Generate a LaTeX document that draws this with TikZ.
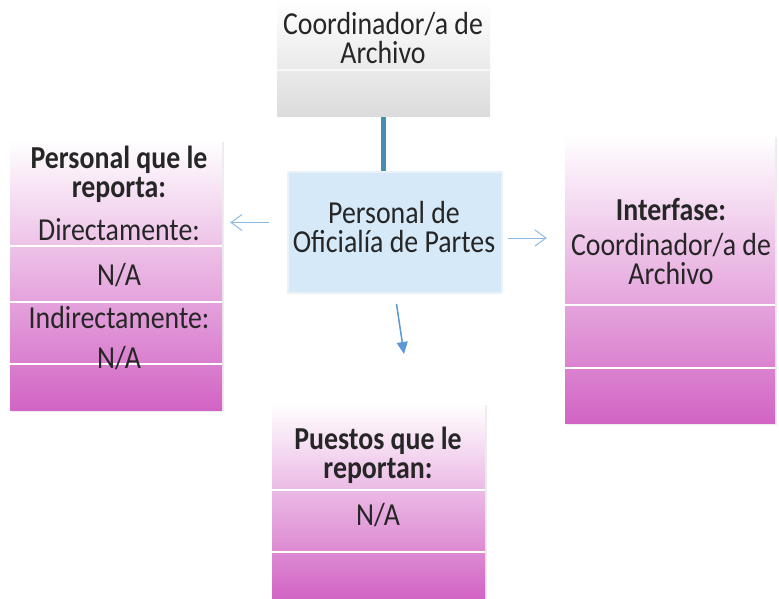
\documentclass[tikz,border=0pt]{standalone}
\usepackage{fontspec}
\setmainfont{Carlito}[FakeStretch=0.87]
\usetikzlibrary{arrows.meta,positioning,shadows}
\definecolor{pinkdeep}{RGB}{210,100,196}
\definecolor{lightsky}{RGB}{214,233,248}
\definecolor{skyedge}{RGB}{234,241,247}
\definecolor{linkblue}{RGB}{72,140,182}
\definecolor{arrowblue}{RGB}{140,186,226}
\definecolor{downblue}{RGB}{92,152,214}
\definecolor{txtgray}{RGB}{38,38,38}

\begin{document}
\begin{tikzpicture}[x=1pt, y=-1pt,
    pbox/.style={rectangle, inner sep=0pt, top color=white, bottom color=pinkdeep, drop shadow={opacity=0.15, shadow xshift=2pt, shadow yshift=-2pt}},
    gbox/.style={rectangle, inner sep=0pt, top color=white, bottom color=gray!28},
    cbox/.style={rectangle, inner sep=0pt, fill=lightsky, draw=skyedge, line width=2pt},
    sep/.style={white, line width=2pt},
    txt/.style={anchor=base, inner sep=0pt, text=txtgray, font=\fontsize{32pt}{29pt}\selectfont},
    ttl/.style={txt, font=\fontsize{32pt}{29pt}\selectfont\bfseries},
    linkbar/.style={linkblue, line width=5pt},
    openarr/.style={arrowblue, line width=1pt, -{Straight Barb[length=11pt, width=16pt]}},
    fillarr/.style={downblue, line width=1.5pt, -{Triangle[length=12pt, width=11pt]}}
]
    \useasboundingbox (0,0) rectangle (779,599);

    % Boxes
    \node[gbox, minimum width=213pt, minimum height=117pt] (arch) at (383.5,58.5) {};
    \node[cbox, minimum width=214pt, minimum height=121pt] (ofp) at (395,232.5) {};
    \node[pbox, minimum width=212pt, minimum height=270pt] (rep) at (116,275) {};
    \node[pbox, minimum width=210pt, minimum height=288pt] (intf) at (670,279) {};
    \node[pbox, minimum width=213pt, minimum height=196pt] (pst) at (378.5,501) {};

    % Band separators
    \draw[white, line width=1.5pt, opacity=0.7] (arch.west |- 0,70) -- (arch.east |- 0,70);
    \foreach \yy in {246,302,364}
        \draw[sep] (rep.west |- 0,\yy) -- (rep.east |- 0,\yy);
    \foreach \yy in {305,368}
        \draw[sep] (intf.west |- 0,\yy) -- (intf.east |- 0,\yy);
    \foreach \yy in {490,552}
        \draw[sep] (pst.west |- 0,\yy) -- (pst.east |- 0,\yy);

    % Top box
    \node[txt] (arch1) at (383,35) {Coordinador/a de};
    \node[txt] (arch2) at (383,64) {Archivo};

    % Center box
    \node[txt] (ofp1) at (394,223) {Personal de};
    \node[txt] (ofp2) at (394,252) {Oficialía de Partes};

    % Left box
    \node[ttl] (rep1) at (119,168) {Personal que le};
    \node[ttl] (rep2) at (119,197) {reporta:};
    \node[txt] (rep3) at (119,240) {Directamente:};
    \node[txt] (rep4) at (119,285) {N/A};
    \node[txt] (rep5) at (119,328) {Indirectamente:};
    \node[txt] (rep6) at (119,368) {N/A};

    % Right box
    \node[ttl] (intf1) at (671,220) {Interfase:};
    \node[txt] (intf2) at (671,255) {Coordinador/a de};
    \node[txt] (intf3) at (671,284) {Archivo};

    % Bottom box
    \node[ttl] (pst1) at (378,449) {Puestos que le};
    \node[ttl] (pst2) at (378,478) {reportan:};
    \node[txt] (pst3) at (378,525) {N/A};

    % Connectors
    \draw[linkbar] (arch.south) -- (arch.south |- ofp.north);
    \coordinate (la) at ([yshift=10pt]ofp.west);
    \coordinate (ra) at ([yshift=-5.5pt]ofp.east);
    \coordinate (da) at ([xshift=9pt, yshift=-60pt]ofp.south);
    \draw[openarr, shorten <=18pt, shorten >=8pt] (la) -- (la -| rep.east);
    \draw[openarr, shorten <=5pt, shorten >=18pt] (ra) -- (ra -| intf.west);
    \draw[fillarr, shorten <=10pt] (ofp.south) -- (da);
\end{tikzpicture}
\end{document}
